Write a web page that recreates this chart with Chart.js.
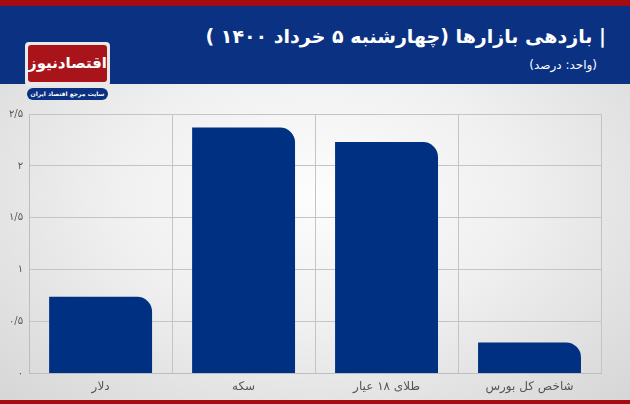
<!DOCTYPE html>
<html lang="fa">
  <head>
    <meta charset="utf-8" />
    <title>بازدهی بازارها</title>
    <style>
      * {
        margin: 0;
        padding: 0;
        font-family: "DejaVu Sans", sans-serif;
      }
      body {
        width: 630px;
        height: 404px;
        position: relative;
        overflow: hidden;
        background: #a30d12;
      }
      .header {
        position: absolute;
        left: 0;
        top: 6px;
        width: 630px;
        height: 78px;
        background: #0a3182;
      }
      .title {
        position: absolute;
        right: 24px;
        top: 19px;
        color: #fff;
        font-size: 19px;
        font-weight: bold;
        direction: rtl;
        white-space: nowrap;
      }
      .sub {
        position: absolute;
        right: 33px;
        top: 52px;
        color: #fff;
        font-size: 12px;
        direction: rtl;
      }
      .board {
        position: absolute;
        left: 0;
        top: 84px;
        width: 630px;
        height: 316px;
        background: radial-gradient(ellipse at 50% 35%, #fdfdfd 0%, #f0f0f0 45%, #d6d6d6 100%);
      }
      .logo {
        position: absolute;
        left: 25px;
        top: 42px;
        width: 85px;
        height: 44px;
        background: #e9e9e9;
        border-radius: 4px;
      }
      .logo .red {
        position: absolute;
        left: 3px;
        top: 3px;
        width: 79px;
        height: 37px;
        background: #a8141a;
        border-radius: 3px;
        color: #fff;
        font-size: 15px;
        font-weight: bold;
        text-align: center;
        line-height: 37px;
        direction: rtl;
        white-space: nowrap;
      }
      .logo .pill {
        position: absolute;
        left: 2px;
        top: 46px;
        width: 81px;
        height: 12px;
        background: #0a3182;
        border-radius: 6px;
        color: #fff;
        font-size: 6px;
        font-weight: bold;
        text-align: center;
        line-height: 12px;
        direction: rtl;
        white-space: nowrap;
      }
      canvas {
        position: absolute;
        left: 0;
        top: 84px;
      }
    </style>
  </head>
  <body>
    <div class="header">
      <div class="title">| بازدهی بازارها (چهارشنبه ۵ خرداد ۱۴۰۰ )</div>
      <div class="sub">(واحد: درصد)</div>
    </div>
    <div class="board"></div>
    <div class="logo">
      <div class="red">اقتصادنیوز</div>
      <div class="pill">سایت مرجع اقتصاد ایران</div>
    </div>
    <canvas id="myChart" width="630" height="316"></canvas>

    <script src="https://cdn.jsdelivr.net/npm/chart.js@4.4.1/dist/chart.umd.min.js"></script>

    <script>
      const categories = ["دلار", "سکه", "طلای ۱۸ عیار", "شاخص کل بورس"];
      const returns = [0.74, 2.37, 2.23, 0.3];
      const yTicks = [0, 0.5, 1, 1.5, 2, 2.5];

      const faDigits = "۰۱۲۳۴۵۶۷۸۹";
      const toFa = (v) =>
        String(v)
          .replace(".", "/")
          .replace(/[0-9]/g, (d) => faDigits[d]);

      const config = {
        type: "bar",
        data: {
          labels: categories,
          datasets: [
            {
              data: returns,
              backgroundColor: "#003082",
              borderRadius: { topRight: 15 },
              borderSkipped: "start",
              categoryPercentage: 0.72,
              barPercentage: 1,
            },
          ],
        },
        options: {
          responsive: false,
          animation: false,
          layout: {
            padding: { left: 3, right: 29, top: 30, bottom: 0 },
          },
          plugins: {
            legend: { display: false },
            tooltip: { enabled: false },
          },
          scales: {
            x: {
              grid: {
                color: "#c4c4c4",
                drawTicks: false,
              },
              border: { color: "#bdbdbd" },
              ticks: {
                color: "#555",
                padding: 6,
                font: { size: 12, family: "DejaVu Sans" },
              },
            },
            y: {
              min: 0,
              max: 2.5,
              afterBuildTicks: (axis) => {
                axis.ticks = yTicks.map((v) => ({ value: v }));
              },
              grid: {
                color: "#c4c4c4",
                drawTicks: false,
              },
              border: { color: "#bdbdbd" },
              ticks: {
                color: "#555",
                padding: 6,
                font: { size: 10, family: "DejaVu Sans" },
                callback: (v) => toFa(v),
              },
            },
          },
        },
      };

      const myChart = new Chart(document.getElementById("myChart"), config);
    </script>
  </body>
</html>
